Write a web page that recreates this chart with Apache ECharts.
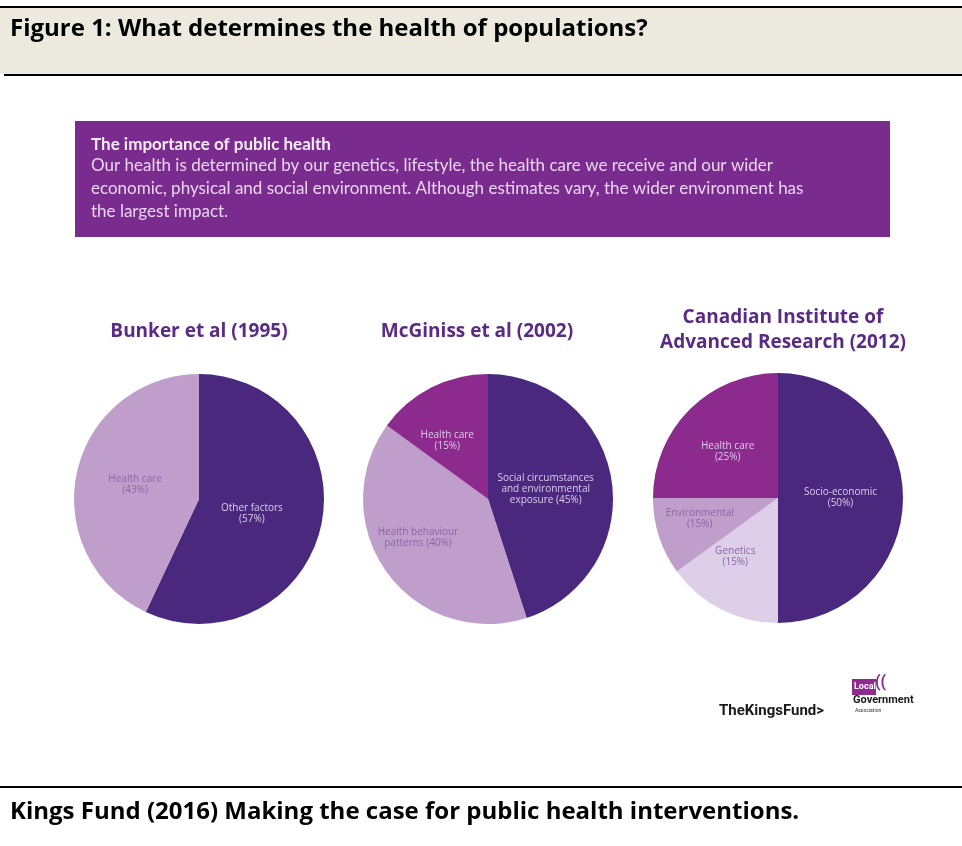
<!DOCTYPE html>
<html>
<head>
<meta charset="utf-8">
<script src="https://cdn.jsdelivr.net/npm/echarts@6/dist/echarts.min.js"></script>
<style>
html,body{margin:0;padding:0;background:#fff;}
#chart{width:962px;height:846px;}
</style>
</head>
<body>
<div id="chart"></div>
<script>
// ---- data ----
const pieTitles = ['Bunker et al (1995)', 'McGiniss et al (2002)', 'Canadian Institute of\nAdvanced Research (2012)'];

const bunkerNames = ['Other factors', 'Health care'];
const bunkerValues = [57, 43];
const bunkerPrinted = [57, 43];

const mcginissNames = ['Social circumstances\nand environmental\nexposure', 'Health behaviour\npatterns', 'Health care'];
const mcginissValues = [45, 40, 15];
const mcginissPrinted = [45, 40, 15];

const ciarNames = ['Socio-economic', 'Genetics', 'Environmental', 'Health care'];
const ciarValues = [50, 15, 10, 25];     // slice shares as drawn
const ciarPrinted = [50, 15, 15, 25];    // percentages printed on labels

// ---- styles ----
const DARK = '#4A287E', LIGHT = '#BF9ECC', MAGENTA = '#8C2A8E', PALE = '#DDCFE7';
const onDark = '#DCCDEA', onLight = '#8A66A4';

function mkLabel(name, pct, inline) {
  return inline ? name + ' (' + pct + '%)' : name + '\n(' + pct + '%)';
}

function pieSeries(center, names, values, printed, colors, textColors, pads, inlineFlags) {
  return {
    type: 'pie',
    center: center,
    radius: [0, 125],
    startAngle: 90,
    clockwise: true,
    silent: true,
    animation: false,
    label: {
      show: true,
      position: 'inside',
      fontFamily: 'Open Sans',
      fontSize: 10,
      lineHeight: 11
    },
    labelLine: { show: false },
    itemStyle: { borderWidth: 0 },
    data: names.map((n, i) => ({
      name: n,
      value: values[i],
      itemStyle: { color: colors[i] },
      label: {
        formatter: mkLabel(n, printed[i], inlineFlags && inlineFlags[i]),
        color: textColors[i],
        padding: pads[i]
      }
    }))
  };
}

const chart = echarts.init(document.getElementById('chart'), null, { renderer: 'canvas' });

const titleStyle = { fontFamily: 'Open Sans', fontWeight: 'bold', fontSize: 19, color: '#5A2A84', lineHeight: 25 };

chart.setOption({
  backgroundColor: '#ffffff',
  title: [
    { text: pieTitles[0], left: 194, top: 314, textAlign: 'center', textStyle: titleStyle },
    { text: pieTitles[1], left: 472, top: 314, textAlign: 'center', textStyle: titleStyle },
    { text: pieTitles[2], left: 778, top: 300, textAlign: 'center', textStyle: titleStyle }
  ],
  graphic: [
    // header band
    { type: 'rect', shape: { x: 0, y: 8, width: 962, height: 66 }, style: { fill: '#ECE9DF' }, silent: true },
    { type: 'rect', shape: { x: 0, y: 6, width: 962, height: 2 }, style: { fill: '#000' }, silent: true },
    { type: 'rect', shape: { x: 4, y: 74, width: 958, height: 2 }, style: { fill: '#000' }, silent: true },
    { type: 'text', left: 10, top: 17, style: { text: 'Figure 1: What determines the health of populations?', fontFamily: 'Open Sans', fontWeight: 'bold', fontSize: 24, fill: '#000' }, silent: true },
    // purple info box
    { type: 'rect', shape: { x: 75, y: 121, width: 815, height: 116 }, style: { fill: '#7A2B8E' }, silent: true },
    { type: 'text', left: 91, top: 136, style: { text: 'The importance of public health', fontFamily: 'Lato', fontWeight: 'bold', fontSize: 17, fill: '#F4ECF6' }, silent: true },
    { type: 'text', left: 91, top: 154, style: { text: 'Our health is determined by our genetics, lifestyle, the health care we receive and our wider\neconomic, physical and social environment. Although estimates vary, the wider environment has\nthe largest impact.', fontFamily: 'Lato', fontSize: 17, lineHeight: 23, fill: '#E9D7EF' }, silent: true },
    // logos
    { type: 'text', left: 719, top: 704, style: { text: 'TheKingsFund>', fontFamily: 'Roboto', fontWeight: 'bold', fontSize: 15, fill: '#1A1A1A' }, silent: true },
    { type: 'rect', shape: { x: 852, y: 679, width: 24, height: 16 }, style: { fill: '#8E2A90' }, silent: true },
    { type: 'text', left: 854, top: 682, style: { text: 'Local', fontFamily: 'Roboto', fontWeight: 'bold', fontSize: 9, fill: '#fff' }, silent: true },
    { type: 'text', left: 875, top: 675, style: { text: '((', fontFamily: 'Roboto', fontWeight: 'bold', fontSize: 16, fill: '#8E2A90' }, silent: true },
    { type: 'text', left: 853, top: 695, style: { text: 'Government', fontFamily: 'Roboto', fontWeight: 'bold', fontSize: 11, fill: '#1A1A1A' }, silent: true },
    { type: 'text', left: 855, top: 708, style: { text: 'Association', fontFamily: 'Roboto', fontSize: 5, fill: '#333' }, silent: true },
    // footer
    { type: 'rect', shape: { x: 0, y: 786, width: 962, height: 2 }, style: { fill: '#000' }, silent: true },
    { type: 'text', left: 10, top: 800, style: { text: 'Kings Fund (2016) Making the case for public health interventions.', fontFamily: 'Open Sans', fontWeight: 'bold', fontSize: 24, fill: '#000' }, silent: true }
  ],
  series: [
    pieSeries([199, 499], bunkerNames, bunkerValues, bunkerPrinted,
      [DARK, LIGHT], [onDark, onLight],
      [[0, 22, 14, 0], [0, 0, 44, 0]]),
    pieSeries([488, 499], mcginissNames, mcginissValues, mcginissPrinted,
      [DARK, LIGHT, MAGENTA], [onDark, onLight, onDark],
      [[36, 14, 0, 0], [0, 34, 12, 0], [0, 22, 42, 0]],
      [true, true, false]),
    pieSeries([778, 498], ciarNames, ciarValues, ciarPrinted,
      [DARK, PALE, LIGHT, MAGENTA], [onDark, onLight, onLight, onDark],
      [[0, 6, 0, 0], [18, 26, 0, 0], [0, 32, 0, 0], [0, 8, 2, 0]])
  ]
});
</script>
</body>
</html>
